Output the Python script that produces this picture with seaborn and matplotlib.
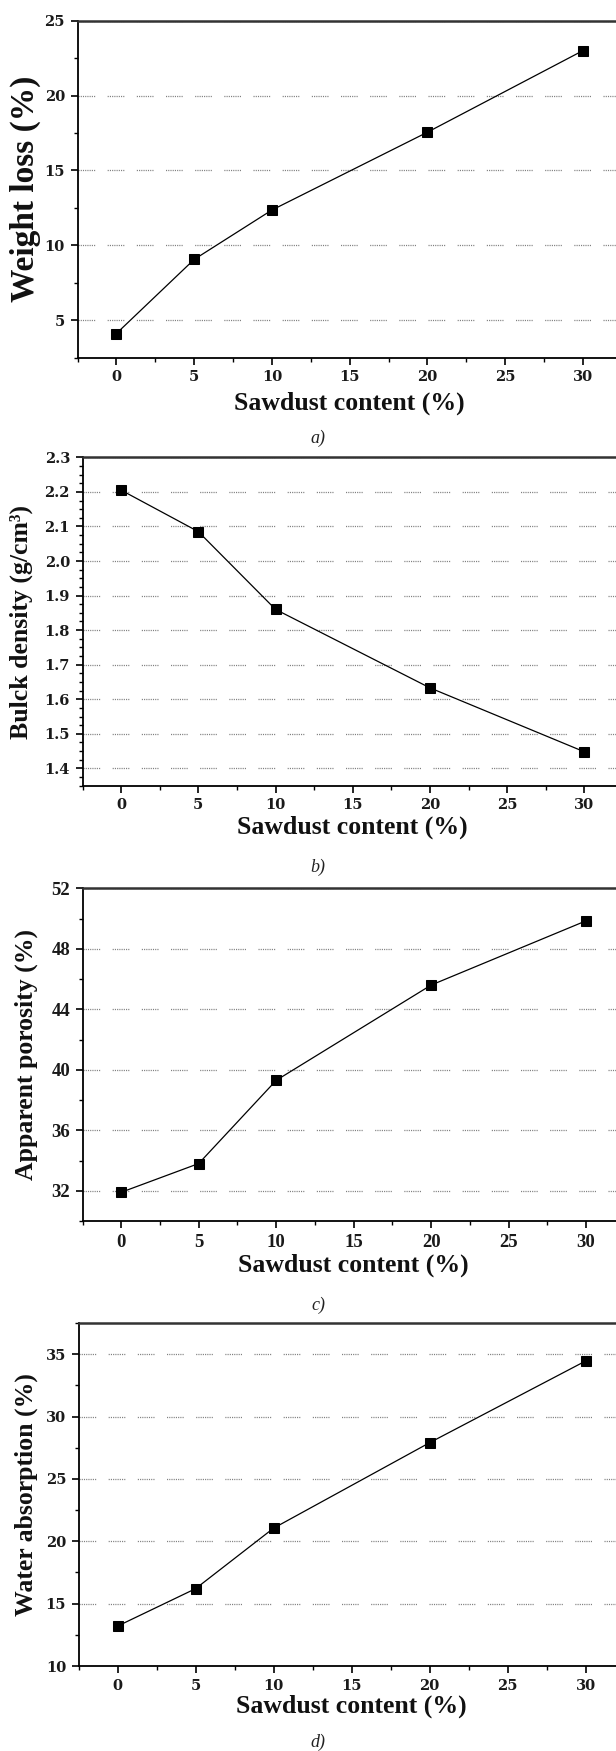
"""
Sawdust content vs. brick properties: four stacked line plots.
"""

import matplotlib
matplotlib.use("Agg")
import matplotlib.pyplot as plt
from matplotlib.ticker import MultipleLocator
import seaborn as sns

sns.set_style("white")
plt.rcParams["font.family"] = ["Liberation Serif", "DejaVu Serif"]
plt.rcParams["lines.scale_dashes"] = False

# data
sawdust = [0, 5, 10, 20, 30]
weight_loss = [4.1, 9.05, 12.35, 17.55, 23.0]
bulk_density = [2.205, 2.085, 1.86, 1.633, 1.448]
apparent_porosity = [31.9, 33.8, 39.3, 45.6, 49.85]
water_absorption = [13.2, 16.2, 21.05, 27.9, 34.45]

W, H = 616, 1751

panels = [
    dict(y=weight_loss, ylabel="Weight loss (%)", ylim=(2.5, 25), major=5, minor=2.5,
         box=(77.5, 20.7, 621.8, 357.5), xlab_y=-0.135, ylab_x=-0.0965, ylab_size=24,
         tick_font="DejaVu Serif", tick_size=10.5, caption="a)", cap_y=438),
    dict(y=bulk_density, ylabel="Bulck density (g/cm³)", ylim=(1.35, 2.3), major=0.1,
         minor=0.025, box=(82.5, 457.3, 623.0, 785.7), xlab_y=-0.126, ylab_x=-0.1127,
         ylab_size=18.5, tick_font="DejaVu Serif", tick_size=10.5, caption="b)", cap_y=867),
    dict(y=apparent_porosity, ylabel="Apparent porosity (%)", ylim=(30, 52), major=4, minor=2,
         box=(82.5, 888.3, 624.8, 1221.0), xlab_y=-0.132, ylab_x=-0.1036, ylab_size=18.5,
         tick_font="Liberation Serif", tick_size=13.5, caption="c)", cap_y=1305),
    dict(y=water_absorption, ylabel="Water absorption (%)", ylim=(10, 37.5), major=5, minor=2.5,
         box=(78.6, 1323.0, 624.5, 1666.0), xlab_y=-0.1166, ylab_x=-0.0958, ylab_size=18.5,
         tick_font="DejaVu Serif", tick_size=10.5, caption="d)", cap_y=1742),
]

grid_dash = (0, (0.8, 0.8) * 7 + (0.8, 9.0))

fig = plt.figure(figsize=(W / 100, H / 100), dpi=100)

for p in panels:
    x0, y0, x1, y1 = p["box"]
    ax = fig.add_axes([x0 / W, 1 - y1 / H, (x1 - x0) / W, (y1 - y0) / H])

    sns.lineplot(x=sawdust, y=p["y"], ax=ax, color="black", linewidth=0.9,
                 marker="s", markersize=7.5, markeredgecolor="black")

    ax.set_xlim(-2.5, 32.5)
    ax.set_ylim(*p["ylim"])
    ax.xaxis.set_major_locator(MultipleLocator(5))
    ax.xaxis.set_minor_locator(MultipleLocator(2.5))
    ax.yaxis.set_major_locator(MultipleLocator(p["major"]))
    ax.yaxis.set_minor_locator(MultipleLocator(p["minor"]))

    ax.grid(axis="y", which="major", color="#7f7f7f", linewidth=0.9, linestyle=grid_dash)
    ax.grid(axis="x", visible=False)

    ax.tick_params(which="major", direction="out", length=5, width=1.2, color="black",
                   bottom=True, left=True, pad=4)
    ax.tick_params(which="minor", direction="out", length=3, width=1.0, color="black",
                   bottom=True, left=True)
    for lab in ax.get_xticklabels() + ax.get_yticklabels():
        lab.set_fontfamily([p["tick_font"], "DejaVu Serif"])
        lab.set_fontweight("bold")
        lab.set_fontsize(p["tick_size"])
        lab.set_color("#1a1a1a")

    for side in ["left", "bottom"]:
        ax.spines[side].set_color("black")
        ax.spines[side].set_linewidth(1.3)
    ax.spines["top"].set_color("#333333")
    ax.spines["top"].set_linewidth(1.8)
    ax.spines["right"].set_visible(False)

    ax.set_xlabel("Sawdust content (%)", fontsize=18.5, fontweight="bold", color="#111111")
    ax.xaxis.label.set_va("center")
    ax.xaxis.set_label_coords(0.5, p["xlab_y"])
    ax.set_ylabel(p["ylabel"], fontsize=p["ylab_size"], fontweight="bold", color="#111111")
    ax.yaxis.label.set_va("center")
    ax.yaxis.set_label_coords(p["ylab_x"], 0.5)

    fig.text(318 / W, 1 - p["cap_y"] / H, p["caption"], ha="center", va="center",
             fontsize=13, style="italic", color="#222222")

fig.savefig("out.png", dpi=100)
